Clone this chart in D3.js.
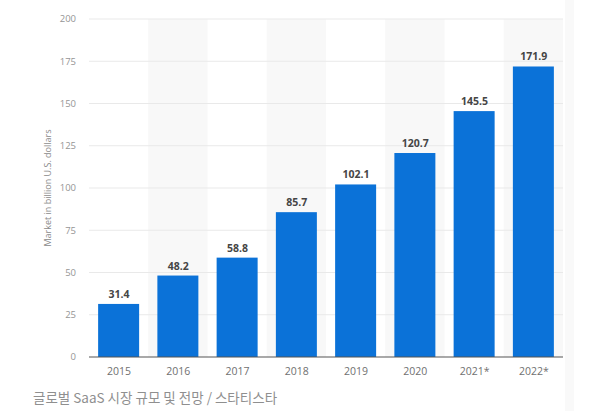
<!DOCTYPE html>
<html><head><meta charset="utf-8">
<script src="https://cdn.jsdelivr.net/npm/d3@7"></script>
<style>
html,body{margin:0;padding:0;background:#fff;}
svg{display:block;}
</style></head>
<body>
<svg id="c" width="589" height="411"></svg>
<script>
const categories = ["2015","2016","2017","2018","2019","2020","2021*","2022*"];
const values = [31.4, 48.2, 58.8, 85.7, 102.1, 120.7, 145.5, 171.9];
const yTicks = [0, 25, 50, 75, 100, 125, 150, 175, 200];
const yTitle = "Market in billion U.S. dollars";
const caption = "글로벌 SaaS 시장 규모 및 전망 / 스타티스타";

const svg = d3.select("#c");
const font = "'Open Sans', 'Noto Sans', sans-serif";
const mLeft = 89, mRight = 563, mTop = 19, mBottom = 357;

const x = d3.scaleBand().domain(categories).range([mLeft, mRight]).paddingInner(0).paddingOuter(0);
const y = d3.scaleLinear().domain([0, 200]).range([mBottom, mTop]);

// faint right strip
svg.append("rect").attr("x", 565).attr("y", 0).attr("width", 9).attr("height", 411).attr("fill", "#f9f9f9");

// alternating bands
svg.append("g").selectAll("rect").data(categories.filter((d, i) => i % 2 === 1)).join("rect")
  .attr("x", d => x(d)).attr("y", mTop).attr("width", x.bandwidth()).attr("height", mBottom - mTop)
  .attr("fill", "#f8f8f8");

// grid lines
svg.append("g").selectAll("line").data(yTicks.filter(d => d > 0)).join("line")
  .attr("x1", mLeft).attr("x2", mRight).attr("y1", d => y(d)).attr("y2", d => y(d))
  .attr("stroke", "#e9e9e9").attr("stroke-width", 1);

// y tick labels
svg.append("g").selectAll("text").data(yTicks).join("text")
  .attr("x", 76).attr("y", d => y(d)).attr("dy", "0.35em")
  .attr("text-anchor", "end").attr("font-family", font).attr("font-size", 9.5)
  .attr("fill", "#959595").text(d => d);

// y title
svg.append("text")
  .attr("transform", `translate(51,${(mTop + mBottom) / 2}) rotate(-90)`)
  .attr("text-anchor", "middle").attr("font-family", font).attr("font-size", 9)
  .attr("fill", "#8a8a8a").text(yTitle);

// bars
const bw = 41;
svg.append("g").selectAll("rect").data(values).join("rect")
  .attr("x", (d, i) => x(categories[i]) + x.bandwidth() / 2 - bw / 2)
  .attr("y", d => y(d)).attr("width", bw).attr("height", d => mBottom - y(d))
  .attr("fill", "#0b72d8");

// value labels
svg.append("g").selectAll("text").data(values).join("text")
  .attr("x", (d, i) => x(categories[i]) + x.bandwidth() / 2 + 0.5)
  .attr("y", d => y(d) - 6)
  .attr("text-anchor", "middle").attr("font-family", font).attr("font-size", 10.5)
  .attr("font-weight", "bold").attr("fill", "#454545").text(d => d.toFixed(1));

// baseline
svg.append("line").attr("x1", mLeft).attr("x2", mRight).attr("y1", mBottom).attr("y2", mBottom)
  .attr("stroke", "#555").attr("stroke-width", 1.2);

// x labels
svg.append("g").selectAll("text").data(categories).join("text")
  .attr("x", d => x(d) + x.bandwidth() / 2 + 0.5).attr("y", 375)
  .attr("text-anchor", "middle").attr("font-family", font).attr("font-size", 10.5)
  .attr("fill", "#707070").text(d => d);

// caption
svg.append("text").attr("x", 33).attr("y", 403)
  .attr("font-family", "'Noto Sans CJK KR', 'Noto Sans', sans-serif").attr("font-size", 13.5)
  .attr("fill", "#8f8f8f").text(caption);
</script>
</body></html>
